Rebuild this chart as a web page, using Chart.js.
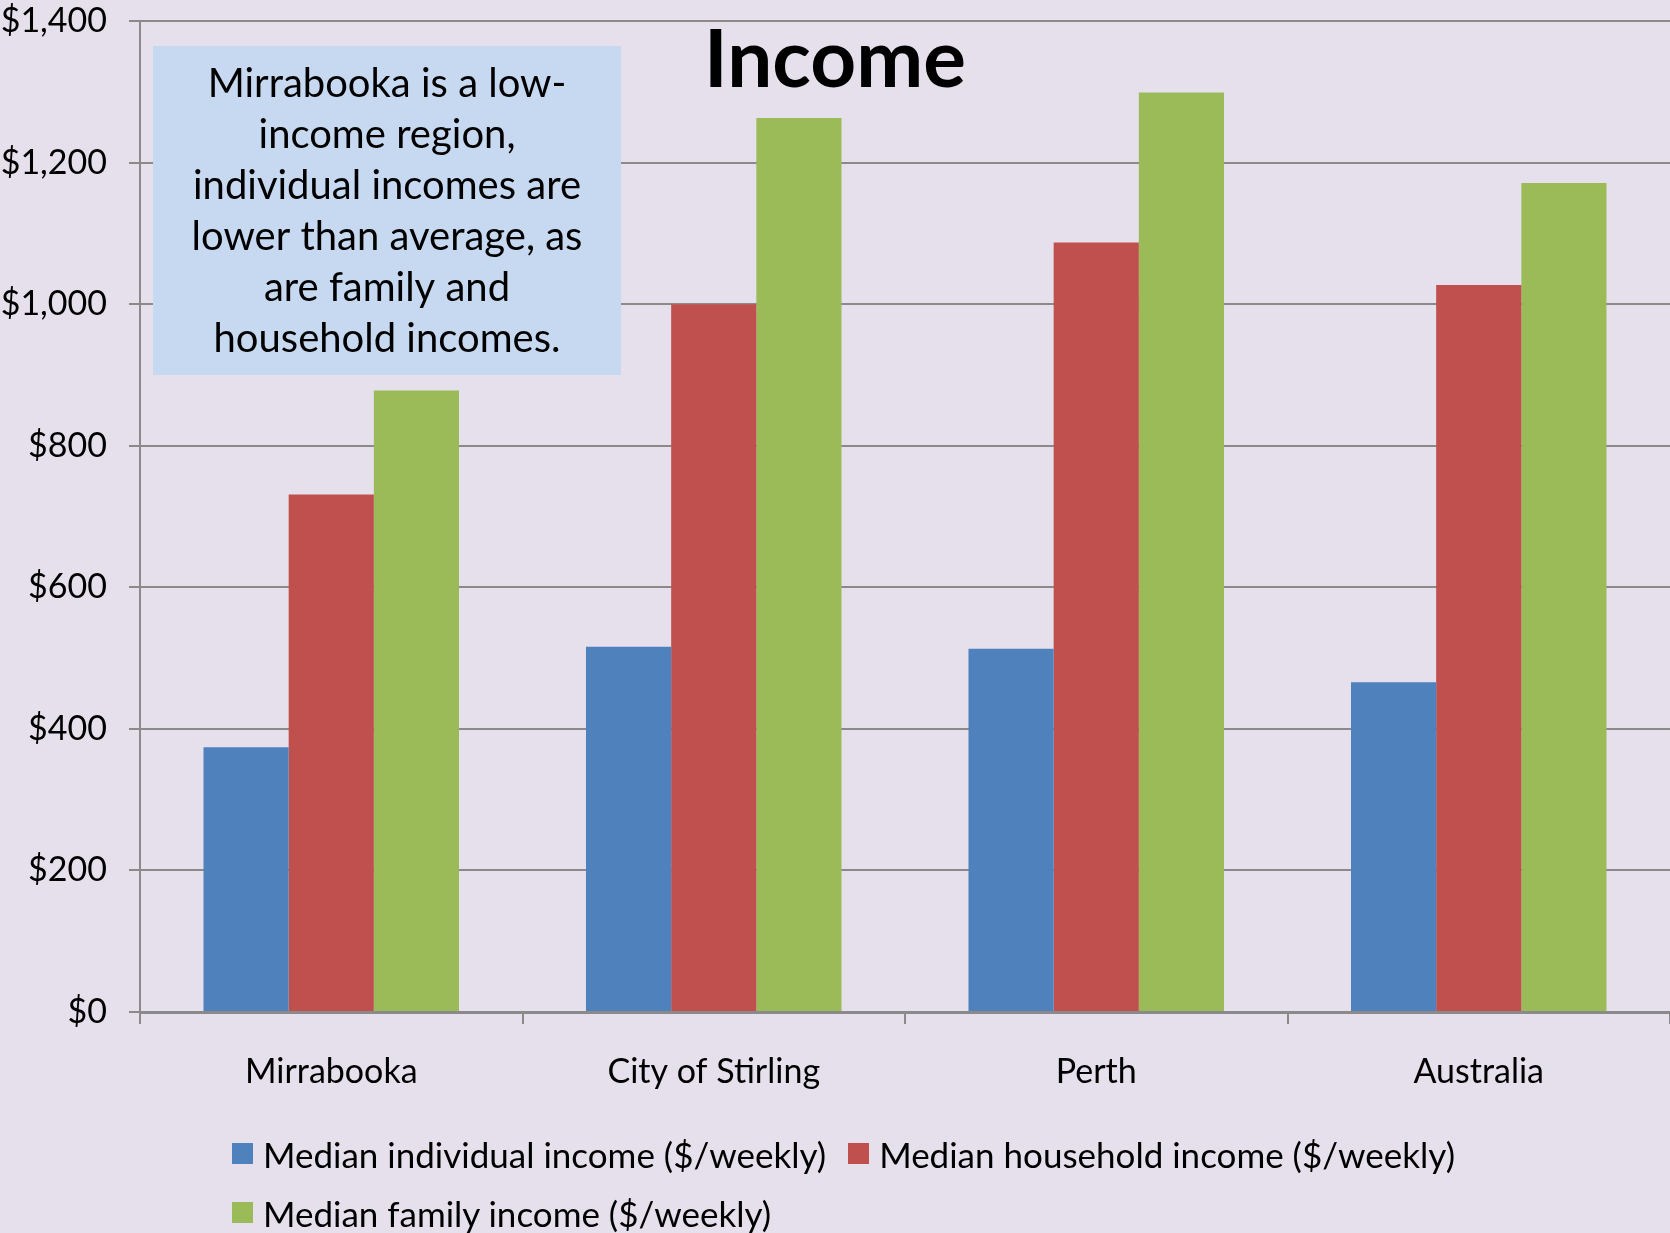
<!DOCTYPE html>
<html>
<head>
<meta charset="utf-8">
<script src="https://cdn.jsdelivr.net/npm/chart.js@4/dist/chart.umd.min.js"></script>
<style>
  html, body { margin: 0; padding: 0; background: #E5E0EC; }
  #wrap { position: relative; width: 1670px; height: 1233px; }
  #legend { position: absolute; left: 232px; top: 1124px; width: 1300px;
            display: flex; flex-wrap: wrap; font-family: Lato, sans-serif; font-size: 35px; color: #000; }
  .item { display: flex; align-items: center; height: 59px; margin-right: 22px; white-space: nowrap; }
  .box { width: 21px; height: 21px; margin-right: 10px; }
</style>
</head>
<body>
<div id="wrap">
  <canvas id="chart" width="1670" height="1233"></canvas>
  <div id="legend"></div>
</div>
<script>
// 分类与数据
const regions = ['Mirrabooka', 'City of Stirling', 'Perth', 'Australia']
const individualIncome = [374, 516, 513, 466]
const householdIncome = [731, 1000, 1087, 1027]
const familyIncome = [878, 1263, 1299, 1171]

const seriesNames = [
    'Median individual income ($/weekly)',
    'Median household income ($/weekly)',
    'Median family income ($/weekly)'
]
const seriesColors = ['#4F81BD', '#C0504D', '#9BBB59']

const titleText = 'Income'
const noteLines = [
    'Mirrabooka is a low-',
    'income region,',
    'individual incomes are',
    'lower than average, as',
    'are family and',
    'household incomes.'
]

const FONT = 'Lato, sans-serif'
const GRID = '#8A8A8A'

// 标题和说明框
const overlay = {
    id: 'overlay',
    afterDraw(chart) {
        const ctx = chart.ctx
        ctx.save()
        // 说明框
        ctx.fillStyle = '#C6D9F1'
        ctx.fillRect(153, 46, 468, 329)
        ctx.fillStyle = '#000'
        ctx.font = `40px ${FONT}`
        ctx.textAlign = 'center'
        ctx.textBaseline = 'middle'
        noteLines.forEach((line, i) => {
            ctx.fillText(line, 387, 84 + i * 51)
        })
        // 标题
        ctx.font = `bold 80px ${FONT}`
        ctx.textBaseline = 'alphabetic'
        ctx.fillText(titleText, 835, 87)
        ctx.restore()
    }
}

const datasets = [individualIncome, householdIncome, familyIncome].map((d, i) => ({
    label: seriesNames[i],
    data: d,
    backgroundColor: seriesColors[i],
    borderWidth: 0,
    categoryPercentage: 0.668,
    barPercentage: 1
}))

const chart = new Chart(document.getElementById('chart'), {
    type: 'bar',
    data: {labels: regions, datasets: datasets},
    options: {
        responsive: false,
        animation: false,
        layout: {padding: {top: 21, right: 0, left: 0, bottom: 0}},
        plugins: {
            legend: {display: false},
            tooltip: {enabled: false},
            title: {display: false}
        },
        scales: {
            x: {
                grid: {display: true, drawOnChartArea: false, color: GRID, lineWidth: 2, tickLength: 12, offset: true},
                border: {color: GRID, width: 3},
                ticks: {color: '#000', font: {family: FONT, size: 34}, padding: 28, maxRotation: 0},
                afterFit(scale) {
                    scale.height = 221
                    scale.paddingLeft = 0
                    scale.paddingRight = 0
                }
            },
            y: {
                min: 0,
                max: 1400,
                ticks: {
                    stepSize: 200,
                    color: '#000',
                    font: {family: FONT, size: 34},
                    padding: 22,
                    callback: v => '$' + v.toLocaleString('en-US')
                },
                grid: {color: GRID, lineWidth: 2, tickLength: 11},
                border: {color: GRID, width: 2},
                afterFit(scale) {
                    scale.width = 140
                    scale.paddingTop = 0
                    scale.paddingBottom = 0
                }
            }
        }
    },
    plugins: [overlay]
})

// 图例
const legendEl = document.getElementById('legend')
datasets.forEach(ds => {
    const item = document.createElement('div')
    item.className = 'item'
    item.innerHTML = `<span class="box" style="background:${ds.backgroundColor}"></span><span>${ds.label}</span>`
    legendEl.appendChild(item)
})
</script>
</body>
</html>
